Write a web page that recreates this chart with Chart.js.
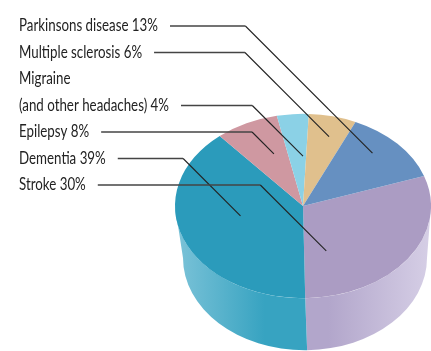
<!DOCTYPE html>
<html>
<head>
<meta charset="utf-8">
<script src="https://cdn.jsdelivr.net/npm/chart.js@4.4.1/dist/chart.umd.min.js"></script>
<style>
  html, body { margin: 0; padding: 0; background: #fff; }
  #wrap { width: 431px; height: 351px; position: relative; }
</style>
</head>
<body>
<div id="wrap"><canvas id="pieChart" width="431" height="351"></canvas></div>
<script>
// data, in drawing order (clockwise from the right)
const categories = [
  ['Stroke'],
  ['Dementia'],
  ['Epilepsy'],
  ['Migraine', '(and other headaches)'],
  ['Multiple sclerosis'],
  ['Parkinsons disease']
];
const shares = [30, 39, 8, 4, 6, 13];

// styling
const topColors = ['#ab9cc3', '#2b9bbb', '#cf98a1', '#8bd1e6', '#e0c08d', '#6690c1'];
const sideColors = [
  ['#b2a6cb', '#d6cfe6'],
  ['#7cc3d8', '#37a3c1'],
  ['#d6a8af', '#cf98a1'],
  ['#a4dbec', '#8bd1e6'],
  ['#e8cfa6', '#e0c08d'],
  ['#86a8cf', '#6690c1']
];
// where each leader line touches its slice: [fraction along the arc, fraction of radius]
const anchors = [[0.82, 0.52], [0.56, 0.5], [0.65, 0.61], [0.82, 0.54], [0.58, 0.78], [0.41, 0.79]];

const SQUASH = 0.72;   // vertical flattening of the top face
const DEPTH = 52;      // height of the cylinder wall
const BOTTOM_SHRINK = 6; // the base ellipse is a little narrower (perspective)
const CENTER_Y = 206;  // screen y of the pie centre
const FONT = '17px Lato, "DejaVu Sans Condensed", sans-serif';
const FIRST_LINE_WIDTH = 139; // width the top label occupies

const pie3d = {
  id: 'pie3d',
  beforeDatasetsDraw(chart) {
    const ctx = chart.ctx;
    const arcs = chart.getDatasetMeta(0).data;
    const cx = arcs[0].x, cy = arcs[0].y, r = arcs[0].outerRadius, ry = r * SQUASH;
    const r2 = r - BOTTOM_SHRINK;

    // wall: only the front half (angles 0..PI) is visible
    arcs.forEach((arc, i) => {
      for (let k = -1; k <= 1; k++) {
        const lo = k * 2 * Math.PI, hi = lo + Math.PI;
        const s = Math.max(arc.startAngle, lo), e = Math.min(arc.endAngle, hi);
        if (e <= s) continue;
        const g = ctx.createLinearGradient(cx - r, 0, cx + r, 0);
        if (i === 0) {
          g.addColorStop(0, sideColors[i][0]);
          g.addColorStop(0.6, sideColors[i][0]);
          g.addColorStop(1, sideColors[i][1]);
        } else {
          g.addColorStop(0, sideColors[i][0]);
          g.addColorStop(0.35, sideColors[i][1]);
          g.addColorStop(1, sideColors[i][1]);
        }
        ctx.beginPath();
        ctx.ellipse(cx, CENTER_Y, r, ry, 0, s, e);
        ctx.ellipse(cx + 2, CENTER_Y + DEPTH, r2, ry, 0, e, s, true);
        ctx.closePath();
        ctx.fillStyle = g;
        ctx.fill();
      }
    });

    // flatten the top face
    ctx.save();
    ctx.translate(0, CENTER_Y);
    ctx.scale(1, SQUASH);
    ctx.translate(0, -cy);
  },
  afterDatasetsDraw(chart) {
    chart.ctx.restore();
  },
  afterDraw(chart) {
    const ctx = chart.ctx;
    const arcs = chart.getDatasetMeta(0).data;
    const cx = arcs[0].x, r = arcs[0].outerRadius;
    ctx.save();
    ctx.font = FONT;
    ctx.textBaseline = 'middle';
    const n = categories.length;
    const firstText = categories[n - 1].join(' ') + ' ' + shares[n - 1] + '%';
    const sx = FIRST_LINE_WIDTH / ctx.measureText(firstText).width;

    let lineY = 26;
    for (let i = n - 1; i >= 0; i--) {
      const lines = categories[i].slice();
      lines[lines.length - 1] += ' ' + shares[i] + '%';
      lines.forEach((t, j) => {
        ctx.save();
        ctx.translate(19, lineY);
        ctx.scale(sx, 1);
        ctx.fillStyle = '#222';
        ctx.fillText(t, 0, 0);
        ctx.restore();
        if (j < lines.length - 1) lineY += 26.5;
      });
      const last = lines[lines.length - 1];
      const x0 = 19 + ctx.measureText(last).width * sx + 12;

      const arc = arcs[i];
      const ang = arc.startAngle + anchors[i][0] * (arc.endAngle - arc.startAngle);
      const ex = cx + anchors[i][1] * r * Math.cos(ang);
      const ey = CENTER_Y + anchors[i][1] * r * SQUASH * Math.sin(ang);
      const bx = ex - (ey - lineY);
      ctx.strokeStyle = '#444';
      ctx.lineWidth = 1.4;
      ctx.beginPath();
      ctx.moveTo(x0, lineY);
      ctx.lineTo(bx, lineY);
      ctx.stroke();
      ctx.strokeStyle = '#222';
      ctx.lineWidth = 1.1;
      ctx.beginPath();
      ctx.moveTo(bx, lineY);
      ctx.lineTo(ex, ey);
      ctx.stroke();
      lineY += 26.5;
    }
    ctx.restore();
  }
};

new Chart(document.getElementById('pieChart'), {
  type: 'pie',
  data: {
    labels: categories.map(c => c.join(' ')),
    datasets: [{
      data: shares,
      backgroundColor: topColors,
      borderWidth: 0
    }]
  },
  options: {
    responsive: false,
    animation: false,
    rotation: 71,
    layout: { padding: { left: 175, right: 0, top: 0, bottom: 0 } },
    plugins: {
      legend: { display: false },
      tooltip: { enabled: false }
    }
  },
  plugins: [pie3d]
});
</script>
</body>
</html>
